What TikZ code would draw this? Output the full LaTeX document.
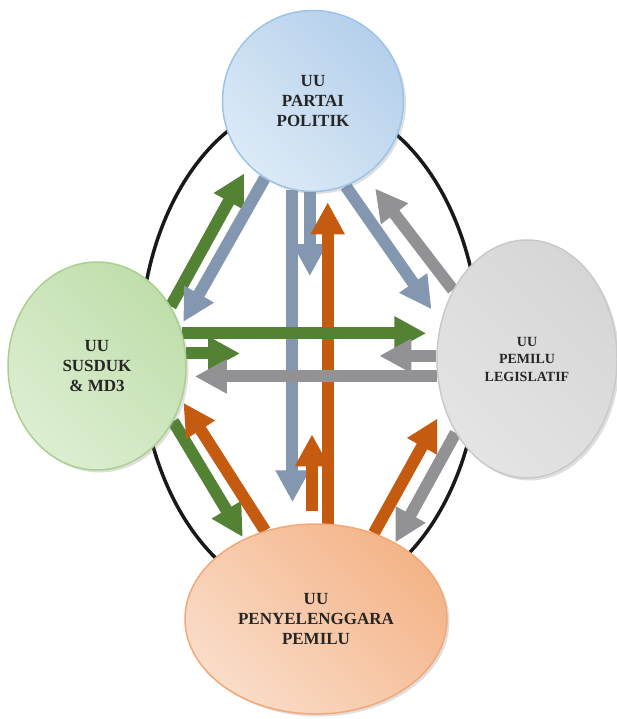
\documentclass[tikz,border=0pt]{standalone}
\usepackage{fontspec}
\setmainfont{Liberation Serif}
\usetikzlibrary{arrows.meta,shapes.geometric,shadows,backgrounds,calc}

\definecolor{hijau}{RGB}{84,130,53}
\definecolor{biru}{RGB}{132,151,176}
\definecolor{abu}{RGB}{146,146,148}
\definecolor{oranye}{RGB}{197,90,17}
\definecolor{biruA}{HTML}{DCEAF7}
\definecolor{biruM}{HTML}{E3EEF9}
\definecolor{biruB}{HTML}{B5D0EB}
\definecolor{biruC}{HTML}{9DC3E6}
\definecolor{hijauA}{HTML}{DDEED2}
\definecolor{hijauM}{HTML}{E4F1DC}
\definecolor{hijauB}{HTML}{C0DEAB}
\definecolor{hijauC}{HTML}{A9D18E}
\definecolor{abuA}{HTML}{E4E4E4}
\definecolor{abuM}{HTML}{EFEFEF}
\definecolor{abuB}{HTML}{D6D6D6}
\definecolor{abuC}{HTML}{C9C9C9}
\definecolor{oranyeA}{HTML}{FADCC8}
\definecolor{oranyeM}{HTML}{FBE6D8}
\definecolor{oranyeB}{HTML}{F4B488}
\definecolor{oranyeC}{HTML}{F2A877}

\begin{document}
\begin{tikzpicture}[x=1pt,y=-1pt]
\tikzstyle{uu}=[ellipse, draw, line width=1.5pt, align=center, text=black!85, inner sep=2pt,
  font=\fontsize{17}{20}\selectfont\bfseries,
  drop shadow={shadow xshift=2.5pt, shadow yshift=-2.5pt, opacity=.25}]
\tikzstyle{panah}=[line width=12pt, -{Triangle[width=32pt,length=32pt]}]
\tikzstyle{lingkar}=[line width=3.5pt, black!90]
\useasboundingbox (0,0) rectangle (617,719);

% undang-undang
\node[uu, draw=biruC, left color=biruA, middle color=biruM, right color=biruB, shading angle=135,
  minimum width=181pt, minimum height=181pt] (partai) at (313,101) {UU\\PARTAI\\POLITIK};
\node[uu, draw=hijauC, left color=hijauA, middle color=hijauM, right color=hijauB, shading angle=135,
  minimum width=178pt, minimum height=208pt] (susduk) at (97,366) {UU\\SUSDUK\\\& MD3};
\node[uu, draw=abuC, left color=abuA, middle color=abuM, right color=abuB, shading angle=135,
  minimum width=180pt, minimum height=238pt, font=\fontsize{14}{17.5}\selectfont\bfseries]
  (legis) at (527,359) {UU\\PEMILU\\LEGISLATIF};
\node[uu, draw=oranyeC, left color=oranyeA, middle color=oranyeM, right color=oranyeB, shading angle=135,
  minimum width=262pt, minimum height=190pt] (bawah) at (316,619) {UU\\PENYELENGGARA\\PEMILU};

\begin{scope}[on background layer]
\draw[lingkar] (310,350) ellipse [x radius=170, y radius=250];

% atas - kiri
\draw[panah, hijau] (susduk.39) -- (partai.225) [shorten >=9pt];
\draw[panah, biru] (partai.238) -- (susduk.25) [shorten >=6pt];
% atas - kanan
\draw[panah, biru] (partai.291) -- (legis.157) [shorten >=16pt];
\draw[panah, abu] (legis.137) -- (partai.305) [shorten >=16pt];
% atas - bawah
\draw[panah, biru] (partai.257) -- (partai.257 |- bawah.north) [shorten >=21pt];
\draw[panah, biru] (partai.268) -- ++(0,84);
\draw[panah, oranye] (bawah.83) -- (bawah.83 |- partai.south) [shorten >=10pt];
\draw[panah, oranye] ($(bawah.north)+(-4,-12)$) -- ++(0,-77);
% kiri - kanan
\draw[panah, hijau] (susduk.21) -- (susduk.21 -| legis.west) [shorten >=10pt];
\draw[panah, hijau] (susduk.8) -- ++(54,0);
\draw[panah, abu] (legis.178) -- ++(-57,0);
\draw[panah, abu] (legis.191) -- (legis.191 -| susduk.east) [shorten >=8pt];
% bawah - kiri
\draw[panah, hijau] (susduk.324) -- (bawah.132) [shorten >=2pt];
\draw[panah, oranye] (bawah.120) -- (susduk.338) [shorten >=3pt];
% bawah - kanan
\draw[panah, oranye] (bawah.56) -- (legis.210) [shorten >=13pt];
\draw[panah, abu] (legis.226) -- (bawah.44);
\end{scope}
\end{tikzpicture}
\end{document}
